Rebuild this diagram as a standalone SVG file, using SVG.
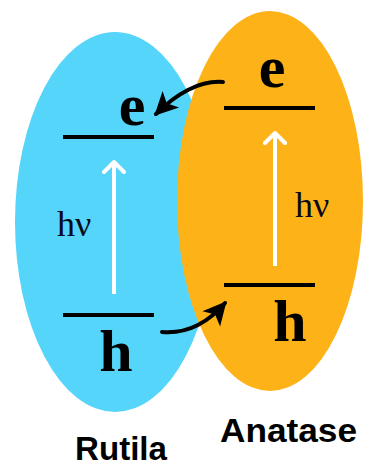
<svg xmlns="http://www.w3.org/2000/svg" width="366" height="468" viewBox="0 0 366 468">
  <style>
    .lvl { stroke: #000; stroke-width: 4; }
    .big { font-family: "Liberation Serif", serif; font-weight: bold; font-size: 60px; fill: #000; }
    .hv { font-family: "Liberation Serif", serif; font-size: 36px; fill: #0a0a1a; }
    .lbl { font-family: "Liberation Sans", Arial, sans-serif; font-weight: bold; font-size: 34px; fill: #000; }
    .wa { stroke: #fff; stroke-width: 4; fill: none; }
    .ca { stroke: #000; stroke-width: 4; fill: none; stroke-linecap: round; }
  </style>
  <defs>
    <marker id="whiteHead" markerUnits="userSpaceOnUse" markerWidth="24" markerHeight="24" viewBox="0 0 24 24" refX="12" refY="2" orient="0">
      <path d="M2,13 L12,3 L22,13" fill="none" stroke="#fff" stroke-width="4" stroke-linecap="round" stroke-linejoin="round"/>
    </marker>
    <marker id="blackHead" markerUnits="userSpaceOnUse" markerWidth="28" markerHeight="28" viewBox="0 0 24 24" refX="20" refY="12" orient="auto">
      <path d="M2,2 L22,12 L2,22 L7,12 z" fill="#000"/>
    </marker>
  </defs>
  <rect width="366" height="468" fill="#fff"/>
  <g id="rutile">
    <ellipse cx="115" cy="222" rx="100" ry="190" fill="#55D5F9"/>
  </g>
  <g id="anatase">
    <ellipse cx="270" cy="201" rx="93" ry="190" fill="#FDB318"/>
  </g>
  <g id="rutile-levels">
    <line class="lvl" x1="63" y1="137" x2="154" y2="137"/>
    <text class="big" x="132" y="125" text-anchor="middle">e</text>
    <line class="lvl" x1="63" y1="315" x2="154" y2="315"/>
    <text class="big" x="116" y="371" text-anchor="middle">h</text>
    <text class="hv" x="57" y="236">hν</text>
  </g>
  <g id="anatase-levels">
    <line class="lvl" x1="224" y1="108" x2="315" y2="108"/>
    <text class="big" x="272" y="87" text-anchor="middle">e</text>
    <line class="lvl" x1="224" y1="285" x2="315" y2="285"/>
    <text class="big" x="290" y="341" text-anchor="middle">h</text>
    <text class="hv" x="295" y="217">hν</text>
  </g>
  <g id="connectors">
    <line class="wa" x1="114" y1="294" x2="114" y2="161" marker-end="url(#whiteHead)"/>
    <line class="wa" x1="275" y1="266" x2="275" y2="132" marker-end="url(#whiteHead)"/>
    <path class="ca" d="M223,82 C200,80 176,94 156,114" marker-end="url(#blackHead)"/>
    <path class="ca" d="M162,332 C186,334 206,325 225,303" marker-end="url(#blackHead)"/>
  </g>
  <g id="labels">
    <text class="lbl" x="75" y="460" textLength="92" lengthAdjust="spacingAndGlyphs">Rutila</text>
    <text class="lbl" x="220" y="442" textLength="137" lengthAdjust="spacingAndGlyphs">Anatase</text>
  </g>
</svg>
